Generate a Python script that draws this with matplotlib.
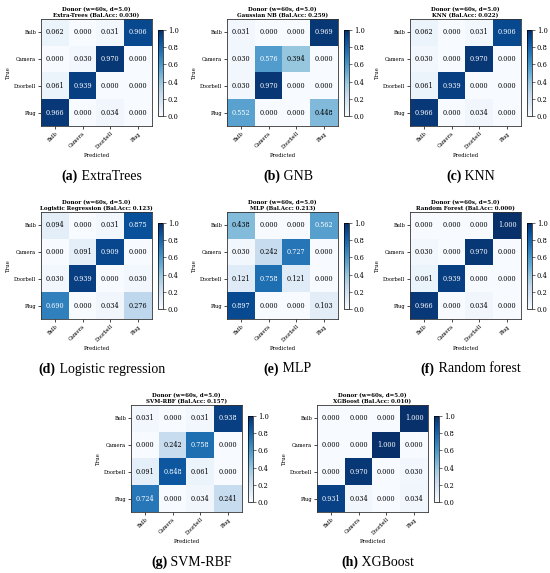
import numpy as np
import matplotlib.pyplot as plt

# class labels
classes = ["Bulb", "Camera", "Doorbell", "Plug"]

# per-model titles, balanced accuracy and captions
models = ["Extra-Trees", "Gaussian NB", "KNN", "Logistic Regression",
          "MLP", "Random Forest", "SVM-RBF", "XGBoost"]
bal_acc = [0.030, 0.259, 0.022, 0.123, 0.213, 0.000, 0.157, 0.010]
captions = [("(a)", "ExtraTrees"), ("(b)", "GNB"), ("(c)", "KNN"),
            ("(d)", "Logistic regression"), ("(e)", "MLP"),
            ("(f)", "Random forest"), ("(g)", "SVM-RBF"), ("(h)", "XGBoost")]

# normalised confusion matrices (rows = true, cols = predicted)
cm_et = [[0.062, 0.000, 0.031, 0.906],
         [0.000, 0.030, 0.970, 0.000],
         [0.061, 0.939, 0.000, 0.000],
         [0.966, 0.000, 0.034, 0.000]]
cm_gnb = [[0.031, 0.000, 0.000, 0.969],
          [0.030, 0.576, 0.394, 0.000],
          [0.030, 0.970, 0.000, 0.000],
          [0.552, 0.000, 0.000, 0.448]]
cm_knn = [[0.062, 0.000, 0.031, 0.906],
          [0.030, 0.000, 0.970, 0.000],
          [0.061, 0.939, 0.000, 0.000],
          [0.966, 0.000, 0.034, 0.000]]
cm_lr = [[0.094, 0.000, 0.031, 0.875],
         [0.000, 0.091, 0.909, 0.000],
         [0.030, 0.939, 0.000, 0.030],
         [0.690, 0.000, 0.034, 0.276]]
cm_mlp = [[0.438, 0.000, 0.000, 0.562],
          [0.030, 0.242, 0.727, 0.000],
          [0.121, 0.758, 0.121, 0.000],
          [0.897, 0.000, 0.000, 0.103]]
cm_rf = [[0.000, 0.000, 0.000, 1.000],
         [0.030, 0.000, 0.970, 0.000],
         [0.061, 0.939, 0.000, 0.000],
         [0.966, 0.000, 0.034, 0.000]]
cm_svm = [[0.031, 0.000, 0.031, 0.938],
          [0.000, 0.242, 0.758, 0.000],
          [0.091, 0.848, 0.061, 0.000],
          [0.724, 0.000, 0.034, 0.241]]
cm_xgb = [[0.000, 0.000, 0.000, 1.000],
          [0.000, 0.000, 1.000, 0.000],
          [0.000, 0.970, 0.000, 0.030],
          [0.931, 0.034, 0.000, 0.034]]
matrices = [cm_et, cm_gnb, cm_knn, cm_lr, cm_mlp, cm_rf, cm_svm, cm_xgb]

W, H = 550, 573
fig = plt.figure(figsize=(W / 100, H / 100), dpi=100)
plt.rcParams['font.family'] = 'DejaVu Serif'

# panel top-left corners in pixels
corners = [(41, 19), (227, 19), (410, 19),
           (41, 212), (227, 212), (410, 212),
           (131, 405), (317, 405)]
aw, ah = 111, 107

for i, (cm, (px, py)) in enumerate(zip(matrices, corners)):
    cm = np.array(cm)
    ax = fig.add_axes([px / W, 1 - (py + ah) / H, aw / W, ah / H])
    im = ax.imshow(cm, cmap="Blues", vmin=0, vmax=1, aspect="auto")
    for r in range(4):
        for c in range(4):
            ax.text(c, r, f"{cm[r, c]:.3f}", ha="center", va="center",
                    fontsize=4.7, color="white" if cm[r, c] > 0.5 else "black")
    ax.set_xticks(range(4))
    ax.set_yticks(range(4))
    ax.set_xticklabels(classes, rotation=45, ha="right", rotation_mode="anchor")
    ax.set_yticklabels(classes)
    ax.tick_params(labelsize=3.6, length=2, width=0.5, pad=1.5)
    ax.set_xlabel("Predicted", fontsize=3.9, labelpad=2)
    ax.set_ylabel("True", fontsize=3.9, labelpad=2)
    ax.set_title(f"Donor (w=60s, d=5.0)\n{models[i]} (Bal.Acc: {bal_acc[i]:.3f})",
                 fontsize=3.95, fontweight="bold", pad=1.5, linespacing=1.05)
    for s in ax.spines.values():
        s.set_linewidth(0.6)
        s.set_color("#333333")

    cax = fig.add_axes([(px + aw + 6) / W, 1 - (py + 97) / H, 5 / W, 86 / H])
    cb = fig.colorbar(im, cax=cax, ticks=[0, 0.2, 0.4, 0.6, 0.8, 1.0])
    cb.ax.tick_params(labelsize=4.9, length=2, width=0.4, pad=1.5)
    cb.outline.set_linewidth(0.5)

    # caption under panel
    lab, name = captions[i]
    cx = (px + aw / 2 + 5) / W
    cy = 1 - (py + 157) / H
    t = fig.text(cx, cy, lab + " " + name, ha="center", va="center",
                 fontsize=10, family="Liberation Serif", color="white")
    fig.canvas.draw()
    bb = t.get_window_extent()
    t.remove()
    t1 = fig.text(bb.x0 / W, cy, lab, ha="left", va="center", fontsize=10,
                  family="Liberation Serif", fontweight="bold")
    bb1 = t1.get_window_extent(fig.canvas.get_renderer())
    fig.text(bb1.x1 / W, cy, " " + name, ha="left", va="center", fontsize=10,
             family="Liberation Serif")

fig.savefig("out.png", dpi=100)
